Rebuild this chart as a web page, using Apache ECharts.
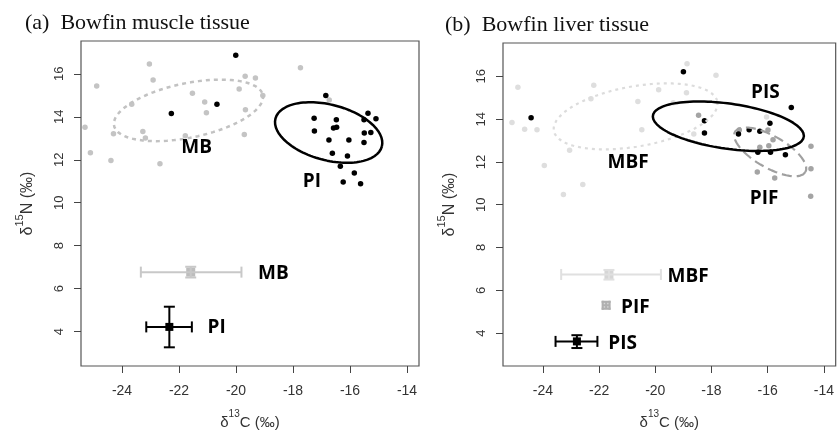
<!DOCTYPE html>
<html><head><meta charset="utf-8">
<script src="https://cdn.jsdelivr.net/npm/echarts@6/dist/echarts.min.js"></script>
<style>html,body{margin:0;padding:0;background:#fff}#c{width:837px;height:435px}</style>
</head><body><div id="c"></div>
<script>
// ---------- Panel (a): Bowfin muscle tissue ----------
const aMB = [[-25.30,13.51],[-24.89,15.44],[-25.11,12.33],[-24.39,11.97],[-24.30,13.21],[-23.66,14.59],
  [-23.04,16.46],[-22.91,15.72],[-23.27,13.32],[-23.18,13.01],[-22.67,11.82],[-21.78,13.12],[-21.53,15.10],
  [-21.10,14.69],[-21.04,14.19],[-19.89,15.29],[-19.68,15.89],[-19.32,15.81],[-19.06,14.99],[-19.67,14.33],
  [-19.71,13.18],[-17.74,16.28],[-16.73,14.78]];
const aPI = [[-22.27,14.16],[-20.67,14.59],[-20.01,16.87],[-16.85,14.99],[-17.26,13.93],[-17.25,13.34],
  [-16.48,13.86],[-16.58,13.48],[-16.47,13.51],[-16.74,12.92],[-16.04,12.92],[-15.51,13.86],[-15.37,14.17],
  [-15.09,13.91],[-15.50,13.25],[-15.27,13.27],[-15.51,12.80],[-16.62,12.30],[-16.09,12.18],[-16.34,11.70],
  [-16.24,10.97],[-15.85,11.39],[-15.63,10.89]];
// ellipse: [cx, cy, ux, uy, vx, vy] (centre and two semi-axis vectors, data units)
const aEllMB = [-21.67, 14.30, 2.611, 0.716, 0.194, -1.240];
const aEllPI = [-16.75, 13.27, 1.866, -0.652, -0.249, -1.249];
// means: [x, y, xlo, xhi, ylo, yhi]
const aMeanMB = [-21.59, 6.77, -23.34, -19.81, 6.52, 7.02];
const aMeanPI = [-22.34, 4.22, -23.15, -21.55, 3.27, 5.16];
const aLabels = [["MB",-21.38,12.58],["PI",-17.34,11.0],["MB",-18.69,6.71],["PI",-20.68,4.2]];

// ---------- Panel (b): Bowfin liver tissue ----------
const bMBF = [[-25.10,13.84],[-24.89,15.49],[-24.65,13.53],[-24.21,13.50],[-23.95,11.83],[-23.27,10.48],
  [-22.58,10.94],[-23.05,12.55],[-22.29,14.95],[-22.19,15.58],[-20.62,14.83],[-20.48,13.50],[-19.88,15.38],
  [-18.87,16.59],[-18.89,15.23],[-18.63,13.30],[-19.36,14.77],[-17.84,16.05],[-16.04,14.10]];
const bPIF = [[-18.46,14.18],[-17.01,13.49],[-15.99,13.49],[-15.81,13.04],[-16.28,12.69],[-15.96,12.76],
  [-14.46,12.73],[-14.46,11.68],[-16.37,11.53],[-15.75,11.25],[-14.47,10.40]];
const bPIS = [[-24.42,14.07],[-19.0,16.22],[-18.25,13.92],[-18.25,13.35],[-17.04,13.30],[-16.66,13.50],
  [-16.28,13.43],[-15.92,13.81],[-15.16,14.54],[-16.35,12.45],[-15.90,12.45],[-15.37,12.33]];
const bEllMBF = [-20.70, 14.13, 2.912, 0.676, 0.186, -1.386];
const bEllPIS = [-17.40, 13.67, 2.685, -0.496, -0.112, -1.045];
const bEllPIF = [-15.91, 12.47, 1.253, -0.941, -0.280, -0.643];
const bMeanMBF = [-21.65, 6.74, -23.35, -19.80, 6.50, 6.95];
const bMeanPIF = [-21.75, 5.30, -21.87, -21.63, 5.14, 5.46];
const bMeanPIS = [-22.79, 3.61, -23.55, -22.06, 3.30, 3.90];
const bLabels = [["PIS",-16.08,15.26],["MBF",-20.97,11.96],["PIF",-16.13,10.29],
  ["MBF",-18.83,6.62],["PIF",-20.71,5.17],["PIS",-21.16,3.5]];

const xTicks = [-24,-22,-20,-18,-16,-14];
const yTicks = [4,6,8,10,12,14,16];

function ellipse(e){
  const pts=[];
  for(let i=0;i<=120;i++){const t=i/120*2*Math.PI;
    pts.push([e[0]+e[2]*Math.cos(t)+e[4]*Math.sin(t), e[1]+e[3]*Math.cos(t)+e[5]*Math.sin(t)]);}
  return pts;
}
function ellSeries(idx, e, color, width, dash){
  return {type:'line', xAxisIndex:idx, yAxisIndex:idx, data:ellipse(e), showSymbol:false, symbol:'none',
    smooth:false, lineStyle:{color:color, width:width, type:dash, opacity:1}, z:3, silent:true, animation:false};
}
function ptSeries(idx, data, color, size){
  return {type:'scatter', xAxisIndex:idx, yAxisIndex:idx, data:data, symbolSize:size||5.5,
    itemStyle:{color:color, opacity:1}, z:2, animation:false};
}
function meanSeries(idx, m, color, sq, cap, fill){
  return {type:'custom', xAxisIndex:idx, yAxisIndex:idx, data:[m], z:4, animation:false,
    renderItem:function(p, api){
      const x=api.value(0), y=api.value(1);
      const c=api.coord([x,y]), xl=api.coord([api.value(2),y]), xh=api.coord([api.value(3),y]);
      const yl=api.coord([x,api.value(4)]), yh=api.coord([x,api.value(5)]);
      const st={stroke:color, lineWidth:2};
      const L=(a,b,c2,d)=>({type:'line', shape:{x1:a,y1:b,x2:c2,y2:d}, style:st});
      return {type:'group', children:[
        {type:'rect', shape:{x:c[0]-sq/2, y:c[1]-sq/2, width:sq, height:sq}, style:{fill:fill||color}},
        L(xl[0],c[1],xh[0],c[1]), L(xl[0],c[1]-cap,xl[0],c[1]+cap), L(xh[0],c[1]-cap,xh[0],c[1]+cap),
        L(c[0],yl[1],c[0],yh[1]), L(c[0]-cap,yl[1],c[0]+cap,yl[1]), L(c[0]-cap,yh[1],c[0]+cap,yh[1])
      ]};
    }};
}
function labelSeries(idx, labs){
  return {type:'scatter', xAxisIndex:idx, yAxisIndex:idx, symbolSize:0, z:5, animation:false,
    itemStyle:{opacity:1},
    data:labs.map(l=>({name:l[0], value:[l[1],l[2]]})),
    label:{show:true, position:'inside', formatter:'{b}', color:'#000', opacity:1, fontFamily:'Open Sans',
      fontWeight:'bold', fontSize:19}};
}
const nameRich = (fs)=>({d:{fontSize:fs, color:'#333', fontFamily:'Liberation Sans', verticalAlign:'bottom', lineHeight:fs+6},
      s:{fontSize:Math.round(fs*0.68), color:'#333', fontFamily:'Liberation Sans', verticalAlign:'top', lineHeight:fs+6}});
function xAxis(idx, min, max){
  return {type:'value', gridIndex:idx, min:min, max:max, splitLine:{show:false},
    axisLine:{show:false},
    axisTick:{show:true, length:7, lineStyle:{color:'#444'}, customValues:xTicks},
    axisLabel:{color:'#333', fontSize:14, fontFamily:'Liberation Sans', margin:18, customValues:xTicks},
    name:'{d|δ}{s|13}{d|C (‰)}', nameLocation:'middle', nameGap:43,
    nameTextStyle:{rich:nameRich(15)}};
}
function yAxis(idx, min, max){
  return {type:'value', gridIndex:idx, min:min, max:max, splitLine:{show:false},
    axisLine:{show:false},
    axisTick:{show:true, length:7, lineStyle:{color:'#444'}, customValues:yTicks},
    axisLabel:{color:'#333', fontSize:13, fontFamily:'Liberation Sans', margin:15, rotate:90, customValues:yTicks},
    name:'{d|δ}{s|15}{d|N (‰)}', nameLocation:'middle', nameGap:45,
    nameTextStyle:{rich:nameRich(16)}};
}

const chart = echarts.init(document.getElementById('c'), null, {renderer:'canvas'});
chart.setOption({
  animation:false,
  backgroundColor:'#fff',
  title:[
    {text:'(a)  Bowfin muscle tissue', left:20, top:7, textStyle:{fontFamily:'Liberation Serif', fontWeight:'normal', fontSize:22, color:'#111'}},
    {text:'(b)  Bowfin liver tissue', left:440, top:9, textStyle:{fontFamily:'Liberation Serif', fontWeight:'normal', fontSize:22, color:'#111'}}
  ],
  grid:[
    {left:81, top:41, width:338, height:326, show:true, borderColor:'#555', borderWidth:1.2, backgroundColor:'transparent'},
    {left:503, top:43, width:336, height:326, show:true, borderColor:'#555', borderWidth:1.2, backgroundColor:'transparent'}
  ],
  xAxis:[xAxis(0,-25.44,-13.58), xAxis(1,-25.42,-13.58)],
  yAxis:[yAxis(0,2.40,17.53), yAxis(1,2.46,17.56)],
  series:[
    ptSeries(0, aMB, '#c4c4c4'),
    ptSeries(0, aPI, '#000'),
    ellSeries(0, aEllMB, '#c2c2c2', 2.5, [4,4]),
    ellSeries(0, aEllPI, '#000', 2.5, 'solid'),
    meanSeries(0, aMeanMB, '#c8c8c8', 9, 5.5, '#bdbdbd'),
    meanSeries(0, aMeanPI, '#000', 8, 5.5),
    labelSeries(0, aLabels),
    ptSeries(1, bMBF, '#dedede'),
    ptSeries(1, bPIF, '#a4a4a4'),
    ptSeries(1, bPIS, '#000'),
    ellSeries(1, bEllMBF, '#dcdcdc', 2.2, [3,4]),
    ellSeries(1, bEllPIF, '#a0a0a0', 2.2, [10,5]),
    ellSeries(1, bEllPIS, '#000', 2.5, 'solid'),
    meanSeries(1, bMeanMBF, '#e0e0e0', 9, 5.5, '#d6d6d6'),
    meanSeries(1, bMeanPIF, '#b0b0b0', 9, 4.5, '#d8d8d8'),
    meanSeries(1, bMeanPIS, '#000', 8, 5.5),
    labelSeries(1, bLabels)
  ]
});
</script></body></html>
